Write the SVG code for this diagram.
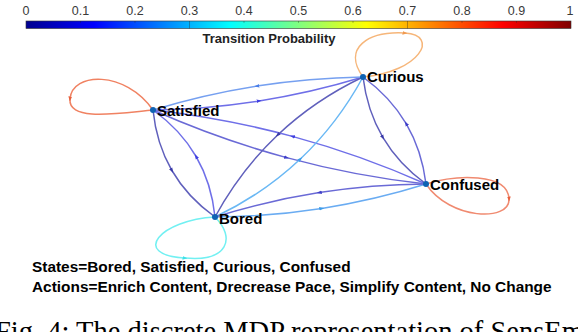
<svg xmlns="http://www.w3.org/2000/svg" width="578" height="332" viewBox="0 0 578 332">
  <style>
    .tick { font-family: "Liberation Sans", Arial, sans-serif; font-size: 12.5px; fill: #3a3a3a; text-anchor: middle; }
    .cbtitle { font-family: "Liberation Sans", Arial, sans-serif; font-size: 13px; font-weight: bold; fill: #222; text-anchor: middle; }
    .lbl { font-family: "Liberation Sans", Arial, sans-serif; font-size: 15px; font-weight: bold; fill: #000; }
    .legend { font-family: "Liberation Sans", Arial, sans-serif; font-size: 15.4px; font-weight: bold; fill: #000; }
    .caption { font-family: "Liberation Serif", "Times New Roman", serif; font-size: 28.5px; fill: #000; }
    .edge { fill: none; stroke-width: 1.5; }
    .dp { stroke: #6060bc; marker-mid: url(#a-dp); }
    .pp { stroke: #6a6ad6; marker-mid: url(#a-pp); }
    .bv { stroke: #6f6fe8; marker-mid: url(#a-bv); }
    .mb { stroke: #76a0f0; marker-mid: url(#a-mb); }
    .lb { stroke: #6ab8f4; marker-mid: url(#a-lb); }
    .lb2 { stroke: #6aacf2; marker-mid: url(#a-lb); }
    .l-sat { stroke: #f08262; marker-mid: url(#a-or); }
    .l-cur { stroke: #f6b67a; marker-mid: url(#a-lo); }
    .l-con { stroke: #f08a70; marker-mid: url(#a-or); }
    .l-bor { stroke: #72f0f2; marker-mid: url(#a-cy); }
    .dot { fill: #0f62b2; }
  </style>
  <defs>
    <linearGradient id="jet" x1="0" y1="0" x2="1" y2="0">
      <stop offset="0" stop-color="#00008f"/>
      <stop offset="0.125" stop-color="#0000ff"/>
      <stop offset="0.375" stop-color="#00ffff"/>
      <stop offset="0.625" stop-color="#ffff00"/>
      <stop offset="0.875" stop-color="#ff0000"/>
      <stop offset="1" stop-color="#800000"/>
    </linearGradient>
    <marker id="a-dp" viewBox="0 0 6 6" refX="3" refY="3" markerWidth="5" markerHeight="5" markerUnits="userSpaceOnUse" orient="auto"><path d="M0,0.8 L6,3 L0,5.2 z" fill="#3a3aa8"/></marker>
    <marker id="a-pp" viewBox="0 0 6 6" refX="3" refY="3" markerWidth="5" markerHeight="5" markerUnits="userSpaceOnUse" orient="auto"><path d="M0,0.8 L6,3 L0,5.2 z" fill="#3e3ec8"/></marker>
    <marker id="a-bv" viewBox="0 0 6 6" refX="3" refY="3" markerWidth="5" markerHeight="5" markerUnits="userSpaceOnUse" orient="auto"><path d="M0,0.8 L6,3 L0,5.2 z" fill="#4040e0"/></marker>
    <marker id="a-mb" viewBox="0 0 6 6" refX="3" refY="3" markerWidth="5" markerHeight="5" markerUnits="userSpaceOnUse" orient="auto"><path d="M0,0.8 L6,3 L0,5.2 z" fill="#4a7ee8"/></marker>
    <marker id="a-lb" viewBox="0 0 6 6" refX="3" refY="3" markerWidth="5" markerHeight="5" markerUnits="userSpaceOnUse" orient="auto"><path d="M0,0.8 L6,3 L0,5.2 z" fill="#3d9ce8"/></marker>
    <marker id="a-or" viewBox="0 0 6 6" refX="3" refY="3" markerWidth="5" markerHeight="5" markerUnits="userSpaceOnUse" orient="auto"><path d="M0,0.8 L6,3 L0,5.2 z" fill="#e8603e"/></marker>
    <marker id="a-lo" viewBox="0 0 6 6" refX="3" refY="3" markerWidth="5" markerHeight="5" markerUnits="userSpaceOnUse" orient="auto"><path d="M0,0.8 L6,3 L0,5.2 z" fill="#f09a50"/></marker>
    <marker id="a-cy" viewBox="0 0 6 6" refX="3" refY="3" markerWidth="5" markerHeight="5" markerUnits="userSpaceOnUse" orient="auto"><path d="M0,0.8 L6,3 L0,5.2 z" fill="#40e0e8"/></marker>
  </defs>

  <rect x="0" y="0" width="578" height="332" fill="#ffffff"/>

  <g id="colorbar">
    <rect x="26" y="21" width="545" height="7.5" fill="url(#jet)" stroke="#333" stroke-width="0.6"/>
    <g stroke="#222" stroke-width="0.6" stroke-opacity="0.6">
      <line x1="80.5" y1="21" x2="80.5" y2="22.8"/>
      <line x1="135" y1="21" x2="135" y2="22.8"/>
      <line x1="189.5" y1="21" x2="189.5" y2="28.5"/>
      <line x1="244" y1="21" x2="244" y2="22.8"/>
      <line x1="298.5" y1="21" x2="298.5" y2="22.8"/>
      <line x1="353" y1="21" x2="353" y2="22.8"/>
      <line x1="407.5" y1="21" x2="407.5" y2="28.5"/>
      <line x1="462" y1="21" x2="462" y2="22.8"/>
      <line x1="516.5" y1="21" x2="516.5" y2="22.8"/>
    </g>
    <text class="tick" x="26" y="15">0</text>
    <text class="tick" x="80.5" y="15">0.1</text>
    <text class="tick" x="135" y="15">0.2</text>
    <text class="tick" x="189.5" y="15">0.3</text>
    <text class="tick" x="244" y="15">0.4</text>
    <text class="tick" x="298.5" y="15">0.5</text>
    <text class="tick" x="353" y="15">0.6</text>
    <text class="tick" x="407.5" y="15">0.7</text>
    <text class="tick" x="462" y="15">0.8</text>
    <text class="tick" x="516.5" y="15">0.9</text>
    <text class="tick" x="570" y="15">1</text>
    <text class="cbtitle" x="269" y="42.7">Transition Probability</text>
  </g>

  <g id="connectors">
    <!-- Satisfied <-> Curious -->
    <path class="edge bv" d="M153,110 Q206.65,109.15 259.15,100.9 Q311.65,92.65 363,77"/>
    <path class="edge mb" d="M363,77 Q309.35,77.85 256.85,86.1 Q204.35,94.35 153,110"/>
    <!-- Satisfied <-> Confused -->
    <path class="edge pp" d="M153,110 Q218.35,139.1 286.6,157.6 Q354.85,176.1 426,184"/>
    <path class="edge bv" d="M426,184 Q360.65,154.9 292.4,136.4 Q224.15,117.9 153,110"/>
    <!-- Satisfied <-> Bored -->
    <path class="edge dp" d="M153,110 Q156.4,143.75 171.9,170.5 Q187.4,197.25 215,217"/>
    <path class="edge bv" d="M215,217 Q211.6,183.25 196.1,156.5 Q180.6,129.75 153,110"/>
    <!-- Bored <-> Curious -->
    <path class="edge lb" d="M215,217 Q263.35,194 300.35,159 Q337.35,124 363,77"/>
    <path class="edge dp" d="M363,77 Q314.65,100 277.65,135 Q240.65,170 215,217"/>
    <!-- Bored <-> Confused -->
    <path class="edge lb2" d="M215,217 Q269,216.65 321.75,208.4 Q374.5,200.15 426,184"/>
    <path class="edge pp" d="M426,184 Q372,184.35 319.25,192.6 Q266.5,200.85 215,217"/>
    <!-- Curious <-> Confused -->
    <path class="edge dp" d="M363,77 Q367.1,110.6 382.85,137.35 Q398.6,164.1 426,184"/>
    <path class="edge pp" d="M426,184 Q421.9,150.4 406.15,123.65 Q390.4,96.9 363,77"/>
    <!-- self loops -->
    <path class="edge l-sat" d="M153,110 C125,70 72,72 70,99 C68,122 120,113 153,110"/>
    <path class="edge l-cur" d="M363,77 C342,48 368,31 405,33 C440,35 420,72 363,77"/>
    <path class="edge l-con" d="M426,184 C455,175 508,172 509,199 C510,222 450,220 426,184"/>
    <path class="edge l-bor" d="M215,217 C160,220 130,255 185,258 C228,262 236,238 215,217"/>
  </g>

  <g id="node-satisfied">
    <circle class="dot" cx="153" cy="110" r="3"/>
    <text class="lbl" x="157" y="116">Satisfied</text>
  </g>
  <g id="node-curious">
    <circle class="dot" cx="363" cy="77" r="3"/>
    <text class="lbl" x="367" y="82.3">Curious</text>
  </g>
  <g id="node-confused">
    <circle class="dot" cx="426" cy="184" r="3"/>
    <text class="lbl" x="430" y="190">Confused</text>
  </g>
  <g id="node-bored">
    <circle class="dot" cx="215" cy="217" r="3"/>
    <text class="lbl" x="219" y="223.5">Bored</text>
  </g>

  <g id="legend">
    <text class="legend" x="32" y="271.7">States=Bored, Satisfied, Curious, Confused</text>
    <text class="legend" x="32" y="291.5">Actions=Enrich Content, Drecrease Pace, Simplify Content, No Change</text>
  </g>

  <text class="caption" x="-5" y="340.6">Fig. 4: The discrete MDP representation of SensEm</text>
</svg>
